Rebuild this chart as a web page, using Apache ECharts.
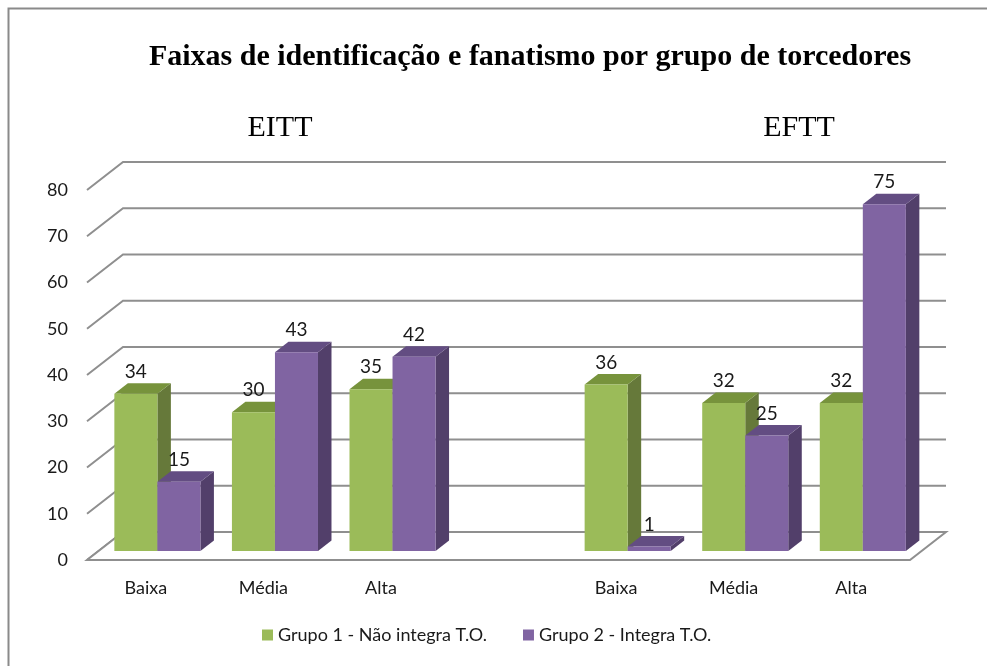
<!DOCTYPE html>
<html lang="en">
  <head>
    <meta charset="utf-8" />
    <title>Faixas de identificação e fanatismo</title>
    <style>
      * {
        margin: 0;
        padding: 0;
      }
      #chart-container {
        position: relative;
        height: 100vh;
        width: 100vw;
        overflow: hidden;
        background: #fff;
      }
    </style>
  </head>
  <body>
    <div id="chart-container"></div>
    <script src="https://fastly.jsdelivr.net/npm/echarts@6/dist/echarts.min.js"></script>
    <script>
      // categories (empty slot separates the EITT and EFTT groups)
      var categories = ["Baixa", "Média", "Alta", "", "Baixa", "Média", "Alta"];
      var grupo1 = [34, 30, 35, null, 36, 32, 32];
      var grupo2 = [15, 43, 42, null, 1, 25, 75];
      var yTicks = [0, 10, 20, 30, 40, 50, 60, 70, 80];
      var seriesNames = ["Grupo 1 - Não integra T.O.", "Grupo 2 - Integra T.O."];

      // 3d look: depth of the whole plot box and where the bars sit in it
      var DEPTH_X = 36,
        DEPTH_Y = -28;
      var BAR_OFF_X = 11.6,
        BAR_OFF_Y = -9;
      var BAR_DX = 13.5,
        BAR_DY = -10.5;
      var BAR_FRAC = 0.366;
      var GRID_COLOR = "#8f8f8f";

      var dom = document.getElementById("chart-container");
      var myChart = echarts.init(dom, null, { renderer: "canvas" });

      function toData(arr) {
        return arr.map(function (v, i) {
          return [i, v];
        });
      }

      function wallRenderer(params, api) {
        var cs = params.coordSys;
        var v = api.value(0);
        var y = api.coord([0, v])[1];
        var xl = cs.x,
          xr = cs.x + cs.width;
        var lineStyle = { stroke: GRID_COLOR, lineWidth: 2, fill: null };
        var children = [
          {
            type: "polyline",
            shape: {
              points: [
                [xl, y],
                [xl + DEPTH_X, y + DEPTH_Y],
                [xr + DEPTH_X, y + DEPTH_Y],
              ],
            },
            style: lineStyle,
          },
        ];
        if (v === 0) {
          children.push({
            type: "polygon",
            shape: {
              points: [
                [xl, y],
                [xr, y],
                [xr + DEPTH_X, y + DEPTH_Y],
                [xl + DEPTH_X, y + DEPTH_Y],
              ],
            },
            style: { fill: "#fff", stroke: GRID_COLOR, lineWidth: 2 },
          });
        }
        return { type: "group", children: children };
      }

      function barRenderer(side, front, sideColor, topColor) {
        return function (params, api) {
          var v = api.value(1);
          if (v == null || isNaN(v)) return;
          var base = api.coord([api.value(0), 0]);
          var top = api.coord([api.value(0), v]);
          var band = api.size([1, 0])[0];
          var w = band * BAR_FRAC;
          var x0 = base[0] + BAR_OFF_X + (side === 0 ? -w : 0);
          var x1 = x0 + w;
          var yb = base[1] + BAR_OFF_Y;
          var yt = top[1] + BAR_OFF_Y;
          return {
            type: "group",
            children: [
              {
                type: "polygon",
                shape: {
                  points: [
                    [x1, yb],
                    [x1 + BAR_DX, yb + BAR_DY],
                    [x1 + BAR_DX, yt + BAR_DY],
                    [x1, yt],
                  ],
                },
                style: { fill: sideColor },
              },
              {
                type: "polygon",
                shape: {
                  points: [
                    [x0, yt],
                    [x1, yt],
                    [x1 + BAR_DX, yt + BAR_DY],
                    [x0 + BAR_DX, yt + BAR_DY],
                  ],
                },
                style: { fill: topColor },
              },
              {
                type: "rect",
                shape: { x: x0, y: yt, width: w, height: yb - yt },
                style: { fill: front },
              },
              {
                type: "text",
                style: {
                  text: String(v),
                  x: (x0 + x1) / 2,
                  y: yt - 22,
                  align: "center",
                  verticalAlign: "middle",
                  font: "19px Lato",
                  fill: "#1a1a1a",
                },
              },
            ],
          };
        };
      }

      var option = {
        animation: false,
        graphic: [
          {
            type: "rect",
            shape: { x: 8.5, y: 8.5, width: 1000, height: 700 },
            style: { fill: null, stroke: "#8a8a8a", lineWidth: 2 },
            silent: true,
          },
          {
            type: "text",
            style: {
              text: "Faixas de identificação e fanatismo por grupo de torcedores",
              x: 530,
              y: 57,
              align: "center",
              verticalAlign: "middle",
              font: "bold 30px 'Liberation Serif'",
              fill: "#000",
            },
          },
          {
            type: "text",
            style: {
              text: "EITT",
              x: 280,
              y: 128,
              align: "center",
              verticalAlign: "middle",
              font: "30px 'Liberation Serif'",
              fill: "#000",
            },
          },
          {
            type: "text",
            style: {
              text: "EFTT",
              x: 799,
              y: 128,
              align: "center",
              verticalAlign: "middle",
              font: "30px 'Liberation Serif'",
              fill: "#000",
            },
          },
        ],
        legend: {
          data: seriesNames,
          bottom: 17,
          left: 257,
          icon: "rect",
          itemWidth: 11,
          itemHeight: 11,
          itemGap: 36,
          textStyle: { fontFamily: "Lato", fontSize: 18, color: "#1a1a1a" },
        },
        grid: { left: 87, right: 77, top: 190, bottom: 106 },
        xAxis: {
          type: "category",
          data: categories,
          axisLine: { show: false },
          axisTick: { show: false },
          axisLabel: {
            margin: 19,
            fontFamily: "Lato",
            fontSize: 18,
            color: "#1a1a1a",
            interval: 0,
          },
        },
        yAxis: {
          type: "value",
          min: 0,
          max: 80,
          interval: 10,
          axisLine: { show: false },
          axisTick: { show: false },
          splitLine: { show: false },
          axisLabel: {
            margin: 19,
            fontFamily: "Lato",
            fontSize: 18,
            color: "#1a1a1a",
          },
        },
        series: [
          {
            type: "custom",
            name: "walls",
            renderItem: wallRenderer,
            data: yTicks.map(function (t) {
              return [t];
            }),
            encode: { y: 0 },
            silent: true,
            z: 1,
          },
          {
            type: "custom",
            name: seriesNames[0],
            itemStyle: { color: "#9bbb59" },
            renderItem: barRenderer(0, "#9bbb59", "#66793a", "#77933c"),
            data: toData(grupo1),
            encode: { x: 0, y: 1 },
            z: 2,
          },
          {
            type: "custom",
            name: seriesNames[1],
            itemStyle: { color: "#8064a2" },
            renderItem: barRenderer(1, "#8064a2", "#523f6a", "#634d82"),
            data: toData(grupo2),
            encode: { x: 0, y: 1 },
            z: 3,
          },
        ],
      };

      myChart.setOption(option);
      window.addEventListener("resize", myChart.resize);
    </script>
  </body>
</html>
